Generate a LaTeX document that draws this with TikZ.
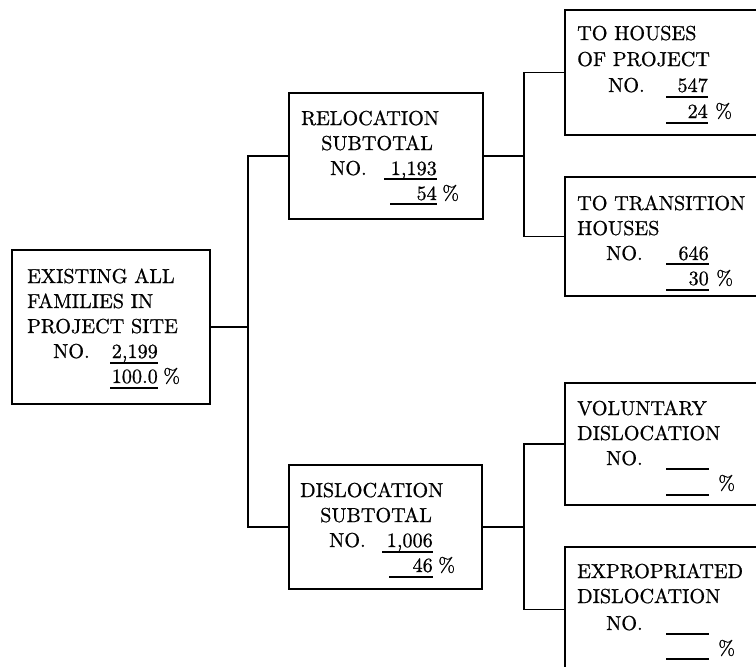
\documentclass[tikz,border=0pt]{standalone}
\usepackage{fontspec}
\newfontfamily\boxfont{lmroman10-regular.otf}[FakeBold=0.8]
\begin{document}
\begin{tikzpicture}[x=1pt,y=-1pt,
  box/.style={draw=black,line width=1.6pt,inner sep=0pt,fill=none},
  conn/.style={draw=black,line width=1.6pt},
  uline/.style={draw=black,line width=1.1pt},
  txt/.style={anchor=base west,inner sep=0pt,font=\boxfont\fontsize{20.2}{24}\selectfont},
  num/.style={anchor=base east,inner sep=0pt,font=\boxfont\fontsize{20.2}{24}\selectfont}]
\useasboundingbox (0,0) rectangle (756,667);
\clip (0,0) rectangle (756,667);
% boxes
\node[box,minimum width=198pt,minimum height=154pt] (root) at (111,327) {};
\node[box,minimum width=194pt,minimum height=126pt] (reloc) at (386,156) {};
\node[box,minimum width=193pt,minimum height=124pt] (disloc) at (385.5,527) {};
\node[box,minimum width=215pt,minimum height=125pt] (houses) at (672.5,72.5) {};
\node[box,minimum width=215pt,minimum height=119pt] (trans) at (672.5,236.5) {};
\node[box,minimum width=215pt,minimum height=122pt] (vol) at (672.5,444) {};
\node[box,minimum width=215pt,minimum height=125pt] (expr) at (672.5,609.5) {};
% connectors
\coordinate (tA) at (248,327);
\coordinate (tB) at (524,156);
\coordinate (tC) at (524,527);
\draw[conn] (root.east) -- (tA);
\draw[conn] (reloc.west) -| (tA) |- (disloc.west);
\draw[conn] (reloc.east) -- (tB);
\draw[conn] (houses.west) -| (tB) |- (trans.west);
\draw[conn] (disloc.east) -- (tC);
\draw[conn] (vol.west) -| (tC) |- (expr.west);
% root text
\node[txt] (r1) at (27,283) {EXISTING ALL};
\node[txt] (r2) at (27,308) {FAMILIES IN};
\node[txt] (r3) at (27,333) {PROJECT SITE};
\node[txt] (r4) at (53,358) {NO.};
\node[num] (r5) at (158,358) {2,199};
\draw[uline] (110,363) -- (158,363);
\node[num] (r6) at (158,383) {100.0};
\draw[uline] (110,388) -- (158,388);
\node[txt] (r7) at (163,383) {\%};
% relocation text
\node[txt] (a1) at (301,125) {RELOCATION};
\node[txt] (a2) at (321,150) {SUBTOTAL};
\node[txt] (a3) at (330,175) {NO.};
\node[num] (a4) at (437,175) {1,193};
\draw[uline] (384,179) -- (437,179);
\node[num] (a5) at (437,200) {54};
\draw[uline] (390,204) -- (437,204);
\node[txt] (a6) at (442,200) {\%};
% dislocation text
\node[txt] (b1) at (300,497) {DISLOCATION};
\node[txt] (b2) at (320,522) {SUBTOTAL};
\node[txt] (b3) at (329,547) {NO.};
\node[num] (b4) at (433,547) {1,006};
\draw[uline] (382,552) -- (433,552);
\node[num] (b5) at (433,572) {46};
\draw[uline] (389,577) -- (433,577);
\node[txt] (b6) at (438,572) {\%};
% houses text
\node[txt] (c1) at (577,40) {TO HOUSES};
\node[txt] (c2) at (577,66) {OF PROJECT};
\node[txt] (c3) at (608,92) {NO.};
\node[num] (c4) at (708,92) {547};
\draw[uline] (666,97) -- (708,97);
\node[num] (c5) at (708,118) {24};
\draw[uline] (666,123) -- (708,123);
\node[txt] (c6) at (715,118) {\%};
% transition text
\node[txt] (d1) at (577,210) {TO TRANSITION};
\node[txt] (d2) at (577,235) {HOUSES};
\node[txt] (d3) at (606,260) {NO.};
\node[num] (d4) at (709,260) {646};
\draw[uline] (666,264) -- (709,264);
\node[num] (d5) at (709,285) {30};
\draw[uline] (666,290) -- (709,290);
\node[txt] (d6) at (716,285) {\%};
% voluntary text
\node[txt] (e1) at (577,415) {VOLUNTARY};
\node[txt] (e2) at (577,440) {DISLOCATION};
\node[txt] (e3) at (606,465) {NO.};
\draw[uline] (666,469) -- (709,469);
\draw[uline] (666,495) -- (709,495);
\node[txt] (e4) at (718,490) {\%};
% expropriated text
\node[txt] (f1) at (577,578) {EXPROPRIATED};
\node[txt] (f2) at (577,603) {DISLOCATION};
\node[txt] (f3) at (606,630) {NO.};
\draw[uline] (666,634) -- (709,634);
\draw[uline] (666,659) -- (709,659);
\node[txt] (f4) at (718,655) {\%};
\end{tikzpicture}
\end{document}
